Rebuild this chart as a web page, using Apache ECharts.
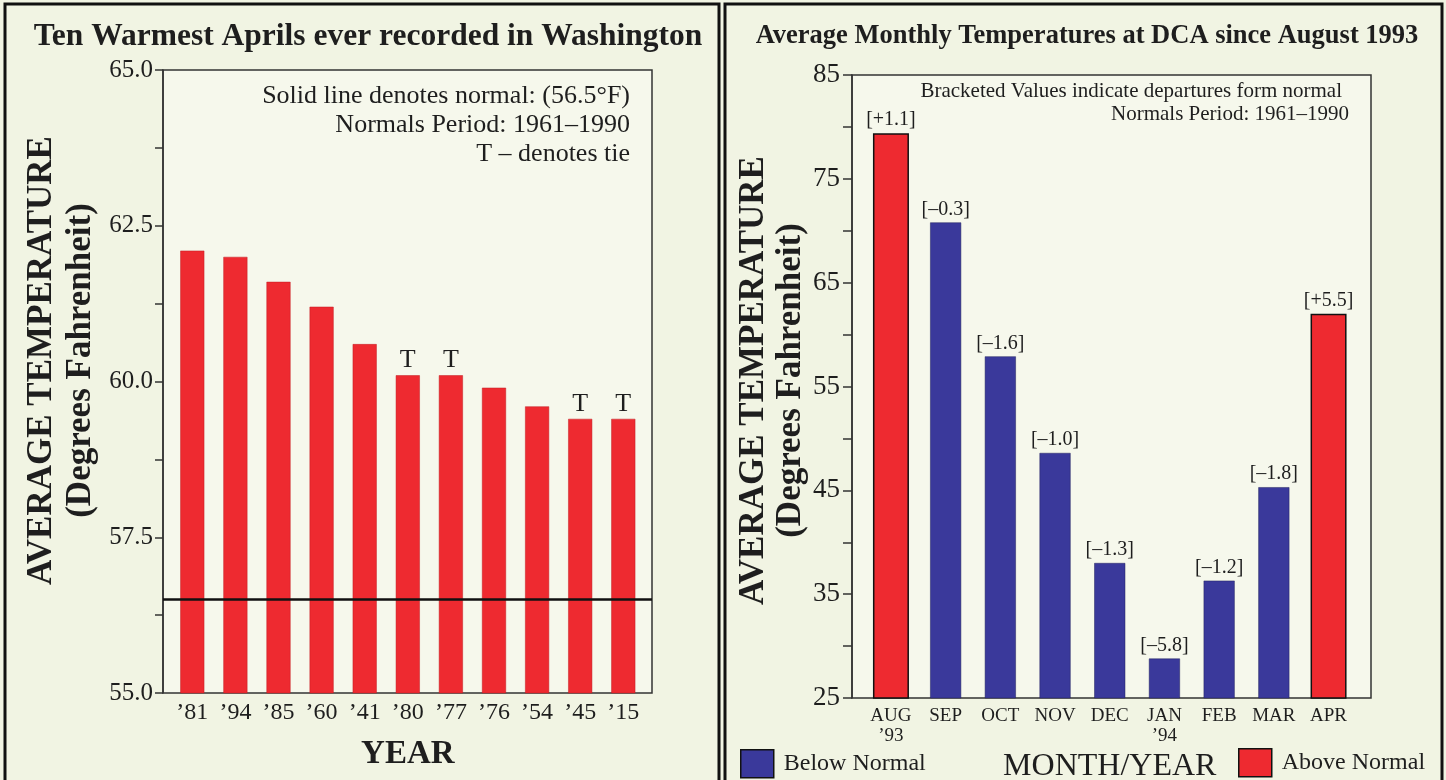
<!DOCTYPE html>
<html>
<head>
<meta charset="utf-8">
<script src="https://cdn.jsdelivr.net/npm/echarts@6/dist/echarts.min.js"></script>
<style>
html, body { margin: 0; padding: 0; background: #f1f4e3; }
#chart { width: 1446px; height: 780px; }
</style>
</head>
<body>
<div id="chart"></div>
<script>
// left panel: ten warmest Aprils
const yearLabels = ['’81', '’94', '’85', '’60', '’41', '’80', '’77', '’76', '’54', '’45', '’15'];
const aprilTemps = [62.1, 62.0, 61.6, 61.2, 60.6, 60.1, 60.1, 59.9, 59.6, 59.4, 59.4];
const tieMarks = ['', '', '', '', '', 'T', 'T', '', '', 'T', 'T'];
const aprilNormal = 56.5;

// right panel: monthly averages at DCA
const monthLabels = ['AUG\n’93', 'SEP', 'OCT', 'NOV', 'DEC', 'JAN\n’94', 'FEB', 'MAR', 'APR'];
const monthTemps = [79.4, 70.8, 57.9, 48.6, 38.0, 28.8, 36.3, 45.3, 62.0];
const departures = [1.1, -0.3, -1.6, -1.0, -1.3, -5.8, -1.2, -1.8, 5.5];

const fam = '"Liberation Serif", "DejaVu Serif", serif';
const ink = '#1e1e1e';
const red = '#ee2a30';
const blue = '#3a399b';

const belowData = monthTemps.map((v, i) => departures[i] < 0 ? v : '-');
const aboveData = monthTemps.map((v, i) => departures[i] > 0 ? v : '-');

function fmtDep(d) {
  return '[' + (d > 0 ? '+' : '–') + Math.abs(d).toFixed(1) + ']';
}
function everyOther(v, min, step) {
  const k = (v - min) / step;
  return Math.abs(k - Math.round(k)) < 1e-6;
}

const chart = echarts.init(document.getElementById('chart'));
chart.setOption({
  animation: false,
  textStyle: { fontFamily: fam, color: ink },
  graphic: [
    { type: 'rect', shape: { x: 5, y: 4, width: 714, height: 800 }, style: { fill: null, stroke: '#111', lineWidth: 3 } },
    { type: 'rect', shape: { x: 725, y: 4, width: 717, height: 800 }, style: { fill: null, stroke: '#111', lineWidth: 3 } },
    { type: 'text', x: 368, y: 37, style: { text: 'Ten Warmest Aprils ever recorded in Washington', font: 'bold 31.5px ' + fam, fill: ink, textAlign: 'center', textVerticalAlign: 'middle' } },
    { type: 'text', x: 1087, y: 36, style: { text: 'Average Monthly Temperatures at DCA since August 1993', font: 'bold 26.5px ' + fam, fill: ink, textAlign: 'center', textVerticalAlign: 'middle' } },
    { type: 'text', x: 630, y: 96, style: { text: 'Solid line denotes normal: (56.5°F)', font: '26px ' + fam, fill: ink, textAlign: 'right', textVerticalAlign: 'middle' } },
    { type: 'text', x: 630, y: 125, style: { text: 'Normals Period: 1961–1990', font: '26px ' + fam, fill: ink, textAlign: 'right', textVerticalAlign: 'middle' } },
    { type: 'text', x: 630, y: 154, style: { text: 'T – denotes tie', font: '26px ' + fam, fill: ink, textAlign: 'right', textVerticalAlign: 'middle' } },
    { type: 'text', x: 1342, y: 91, style: { text: 'Bracketed Values indicate departures form normal', font: '21px ' + fam, fill: ink, textAlign: 'right', textVerticalAlign: 'middle' } },
    { type: 'text', x: 1349, y: 114, style: { text: 'Normals Period: 1961–1990', font: '21px ' + fam, fill: ink, textAlign: 'right', textVerticalAlign: 'middle' } }
  ],
  legend: [
    {
      data: ['Below Normal'], left: 740, top: 749, padding: 0, itemWidth: 33, itemHeight: 28, icon: 'rect',
      itemStyle: { borderColor: '#111', borderWidth: 1.5 },
      textStyle: { fontFamily: fam, fontSize: 24, color: ink, padding: [0, 0, 0, 5] }
    },
    {
      data: ['Above Normal'], left: 1238, top: 748, padding: 0, itemWidth: 33, itemHeight: 28, icon: 'rect',
      itemStyle: { borderColor: '#111', borderWidth: 1.5 },
      textStyle: { fontFamily: fam, fontSize: 24, color: ink, padding: [0, 0, 0, 5] }
    }
  ],
  grid: [
    { left: 163, right: 794, top: 70, bottom: 87, outerBoundsMode: 'none', show: true, backgroundColor: '#f6f8ec', borderColor: '#333', borderWidth: 1.5 },
    { left: 170.75, right: 801.15, top: 70, bottom: 87, outerBoundsMode: 'none' },
    { left: 852, right: 75, top: 75, bottom: 82, outerBoundsMode: 'none', show: true, backgroundColor: '#f6f8ec', borderColor: '#333', borderWidth: 1.5 },
    { left: 863.6, right: 90.1, top: 75, bottom: 82, outerBoundsMode: 'none' }
  ],
  xAxis: [
    { gridIndex: 0, type: 'value', min: 0, max: 1, show: false },
    {
      gridIndex: 1, type: 'category', data: yearLabels,
      axisLine: { show: false }, axisTick: { show: false },
      axisLabel: { fontFamily: fam, fontSize: 24, color: ink, margin: 8, interval: 0 },
      name: 'YEAR', nameLocation: 'middle', nameGap: 45,
      nameTextStyle: { fontFamily: fam, fontSize: 33, fontWeight: 'bold', color: ink }
    },
    { gridIndex: 2, type: 'value', min: 0, max: 1, show: false },
    {
      gridIndex: 3, type: 'category', data: monthLabels,
      axisLine: { show: false }, axisTick: { show: false },
      axisLabel: { fontFamily: fam, fontSize: 19, color: ink, margin: 8, lineHeight: 20, interval: 0 },
      name: 'MONTH/YEAR', nameLocation: 'middle', nameGap: 38,
      nameTextStyle: { fontFamily: fam, fontSize: 32, color: ink }
    },
    { gridIndex: 3, type: 'category', data: monthLabels, show: false }
  ],
  yAxis: [
    {
      gridIndex: 0, type: 'value', min: 55, max: 65, interval: 1.25,
      axisLine: { show: true, lineStyle: { color: '#333', width: 1.5 } },
      axisTick: { show: true, length: 8, lineStyle: { color: '#333', width: 1.5 } },
      splitLine: { show: false },
      axisLabel: {
        fontFamily: fam, fontSize: 25, color: ink, margin: 10,
        formatter: v => everyOther(v, 55, 2.5) ? v.toFixed(1) : ''
      },
      name: 'AVERAGE TEMPERATURE\n(Degrees Fahrenheit)', nameLocation: 'middle', nameRotate: 90, nameGap: 63,
      nameTextStyle: { fontFamily: fam, fontSize: 35, fontWeight: 'bold', color: ink, lineHeight: 39, padding: [0, 0, 0, 42] }
    },
    { gridIndex: 1, type: 'value', min: 55, max: 65, show: false },
    {
      gridIndex: 2, type: 'value', min: 25, max: 85, interval: 5,
      axisLine: { show: true, lineStyle: { color: '#333', width: 1.5 } },
      axisTick: { show: true, length: 9, lineStyle: { color: '#333', width: 1.5 } },
      splitLine: { show: false },
      axisLabel: {
        fontFamily: fam, fontSize: 27, color: ink, margin: 12,
        formatter: v => everyOther(v, 25, 10) ? String(v) : ''
      },
      name: 'AVERAGE TEMPERATURE\n(Degrees Fahrenheit)', nameLocation: 'middle', nameRotate: 90, nameGap: 23,
      nameTextStyle: { fontFamily: fam, fontSize: 35, fontWeight: 'bold', color: ink, lineHeight: 37, padding: [0, 0, 0, 12] }
    },
    { gridIndex: 3, type: 'value', min: 25, max: 85, show: false }
  ],
  series: [
    {
      type: 'line', xAxisIndex: 0, yAxisIndex: 0, data: [], silent: true,
      markLine: {
        silent: true, symbol: ['none', 'none'], label: { show: false },
        lineStyle: { color: '#111', width: 2.5, type: 'solid' },
        data: [{ yAxis: aprilNormal }]
      }
    },
    {
      name: 'April', type: 'bar', xAxisIndex: 1, yAxisIndex: 1, data: aprilTemps, barWidth: 24,
      itemStyle: { color: red, borderColor: '#c21c22', borderWidth: 0.5 },
      label: {
        show: true, position: 'top', distance: 2,
        fontFamily: fam, fontSize: 26, color: ink,
        formatter: p => tieMarks[p.dataIndex]
      }
    },
    {
      name: 'Below Normal', type: 'bar', xAxisIndex: 3, yAxisIndex: 3, data: belowData, barWidth: 31,
      itemStyle: { color: blue, borderColor: '#22225e', borderWidth: 0.5 },
      label: {
        show: true, position: 'top', distance: 3,
        fontFamily: fam, fontSize: 20, color: ink,
        formatter: p => fmtDep(departures[p.dataIndex])
      }
    },
    {
      name: 'Above Normal', type: 'bar', xAxisIndex: 4, yAxisIndex: 3, data: aboveData, barWidth: 36,
      itemStyle: { color: red, borderColor: '#111', borderWidth: 1.5 },
      label: {
        show: true, position: 'top', distance: 3,
        fontFamily: fam, fontSize: 20, color: ink,
        formatter: p => fmtDep(departures[p.dataIndex])
      }
    }
  ]
});
</script>
</body>
</html>
